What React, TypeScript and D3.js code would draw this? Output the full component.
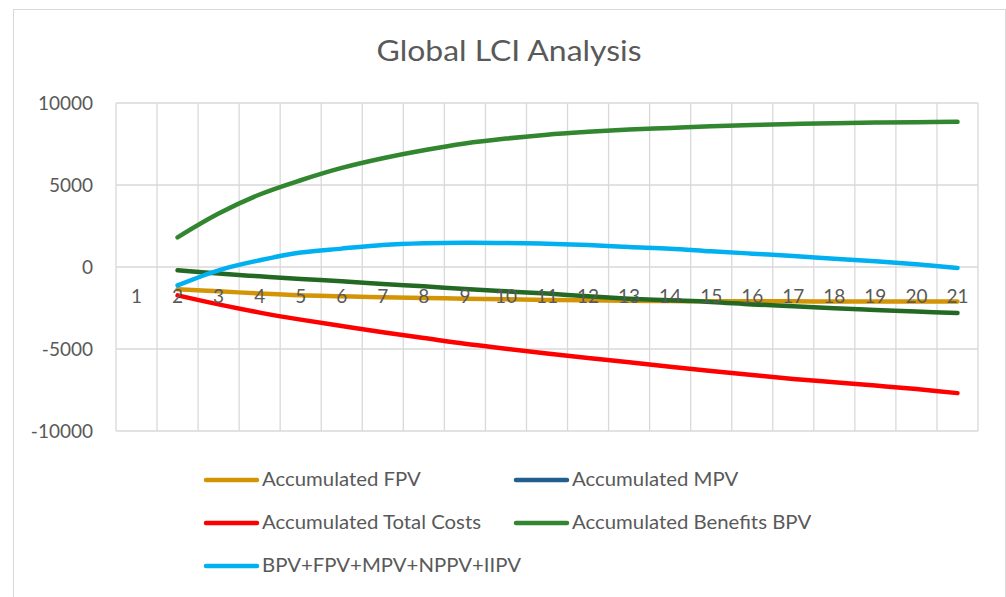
import React from 'react';
import * as d3 from 'd3';

const categories = d3.range(1, 22).map(String);
const yTicks = [-10000, -5000, 0, 5000, 10000];

// values start at category 2
const fpv = [-1360, -1480, -1620, -1730, -1790, -1850, -1890, -1930, -1970, -2010, -2030, -2060, -2080, -2090, -2090, -2095, -2100, -2100, -2100, -2100];
const mpv = [-200, -400, -570, -730, -870, -1040, -1180, -1340, -1480, -1620, -1790, -1930, -2030, -2130, -2280, -2400, -2520, -2620, -2720, -2800];
const totalCosts = [-1730, -2280, -2780, -3210, -3600, -3980, -4330, -4680, -4980, -5270, -5550, -5810, -6080, -6340, -6590, -6830, -7030, -7230, -7440, -7690];
const benefits = [1810, 3260, 4420, 5290, 6040, 6630, 7120, 7530, 7830, 8070, 8240, 8380, 8480, 8580, 8660, 8720, 8770, 8810, 8830, 8850];
const combined = [-1120, -200, 410, 880, 1120, 1340, 1445, 1480, 1465, 1420, 1340, 1220, 1120, 960, 815, 670, 510, 350, 165, -60];

const series = [
  { name: 'Accumulated FPV', values: fpv, color: '#D39406', legend: '#D39406' },
  { name: 'Accumulated MPV', values: mpv, color: '#236923', legend: '#225E8E' },
  { name: 'Accumulated Total Costs', values: totalCosts, color: '#FF0000', legend: '#FF0000' },
  { name: 'Accumulated Benefits BPV', values: benefits, color: '#31862F', legend: '#31862F' },
  { name: 'BPV+FPV+MPV+NPPV+IIPV', values: combined, color: '#00B0F0', legend: '#00B0F0' },
];

const W = 1006;
const H = 597;
const plot = { left: 116, right: 978, top: 103, bottom: 431 };
const font = 'Lato, "Open Sans", sans-serif';
const grey = '#595959';
const stretch = 1.1; // the source text is a little wider than Lato

const App: React.FC = () => {
  const x = d3.scaleBand().domain(categories).range([plot.left, plot.right]).padding(0);
  const y = d3.scaleLinear().domain([-10000, 10000]).range([plot.bottom, plot.top]);
  const bw = x.bandwidth();
  const cx = (c: string) => (x(c) ?? 0) + bw / 2;

  const line = d3
    .line<number>()
    .x((_, i) => cx(categories[i + 1]))
    .y(d => y(d))
    .curve(d3.curveCatmullRom.alpha(0.5));

  const boundaries = categories.map(c => x(c) ?? 0).concat([plot.right]);

  const legendRows = [
    [series[0], series[1]],
    [series[2], series[3]],
    [series[4]],
  ];
  const legendY = [480, 523, 566];
  const legendX = [205, 515];

  return (
    <svg width={W} height={H} style={{ position: 'absolute', left: 0, top: 0, background: '#fff' }}>
      <rect x={13.5} y={9.5} width={992} height={620} fill="#fff" stroke="#d9d9d9" />
      <text
        transform={`translate(509,61) scale(${stretch},1)`}
        textAnchor="middle"
        fontFamily={font}
        fontSize={29}
        fill={grey}
      >
        Global LCI Analysis
      </text>

      {/* grid */}
      {yTicks.map(t => (
        <line key={'h' + t} x1={plot.left} x2={plot.right} y1={y(t)} y2={y(t)} stroke="#d9d9d9" strokeWidth={1.3} />
      ))}
      {boundaries.map((b, i) => (
        <line key={'v' + i} x1={b} x2={b} y1={plot.top} y2={plot.bottom} stroke="#d9d9d9" strokeWidth={1.3} />
      ))}

      {yTicks.map(t => (
        <text key={'yl' + t} x={93} y={y(t)} dy="0.35em" textAnchor="end" fontFamily={font} fontSize={19} fill={grey}>
          {t}
        </text>
      ))}

      {series.map(s => (
        <path
          key={s.name}
          d={line(s.values) ?? ''}
          fill="none"
          stroke={s.color}
          strokeWidth={4.5}
          strokeLinecap="round"
          strokeLinejoin="round"
        />
      ))}

      {categories.map(c => (
        <text key={'xl' + c} x={cx(c)} y={y(0) + 36} textAnchor="middle" fontFamily={font} fontSize={19} fill={grey}>
          {c}
        </text>
      ))}

      {legendRows.map((row, r) =>
        row.map((s, k) => (
          <g key={s.name} transform={`translate(${legendX[k]},${legendY[r]})`}>
            <line x1={1} x2={52} y1={0} y2={0} stroke={s.legend} strokeWidth={4.5} strokeLinecap="round" />
            <text transform={`translate(57,6) scale(${stretch},1)`} fontFamily={font} fontSize={18.5} fill={grey}>
              {s.name}
            </text>
          </g>
        ))
      )}
    </svg>
  );
};

export default App;
